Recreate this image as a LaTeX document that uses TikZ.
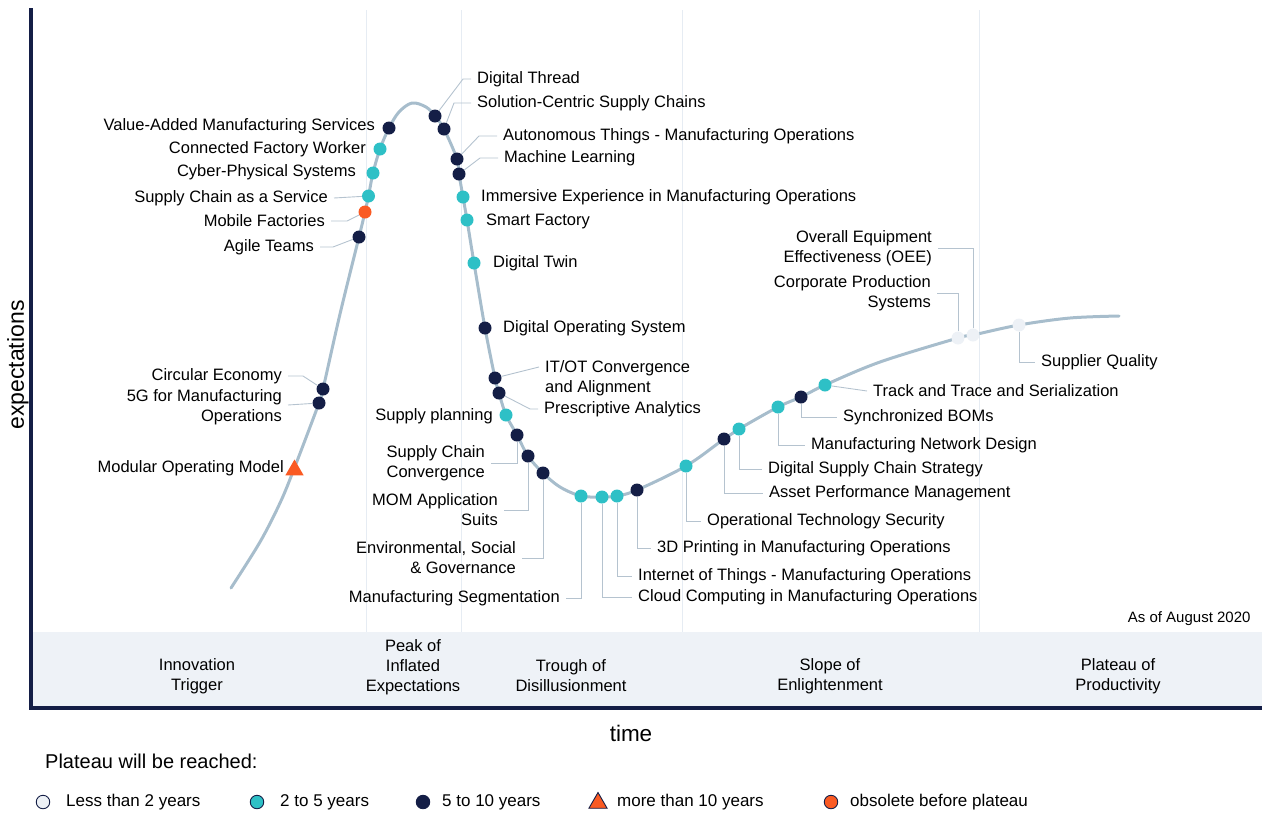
\documentclass[tikz,border=0pt]{standalone}
\usepackage{fontspec}
\setmainfont{Liberation Sans}
\usetikzlibrary{positioning,calc,shapes.geometric}
\definecolor{navy}{HTML}{141E46}
\definecolor{teal}{HTML}{2EC0C6}
\definecolor{orng}{HTML}{FA5A23}
\definecolor{curvec}{HTML}{A7BDCC}
\definecolor{leadc}{HTML}{B5C3CF}
\definecolor{sepc}{HTML}{E6ECF3}
\definecolor{bandc}{HTML}{EEF2F7}
\definecolor{palec}{HTML}{EDF1F6}
\tikzset{font=\fontsize{16.5}{20}\selectfont}
\tikzset{
	pt/.style={circle, minimum size=13pt, inner sep=0pt},
	ptnavy/.style={pt, fill=navy},
	ptteal/.style={pt, fill=teal},
	ptpale/.style={pt, fill=palec},
	ptorng/.style={pt, fill=orng},
	lbl/.style={inner xsep=6pt, inner ysep=1pt},
	lbll/.style={lbl, anchor=west, align=left},
	lblr/.style={lbl, anchor=east, align=right},
	lead/.style={draw=leadc, line width=0.9pt},
	phase/.style={align=center},
	key/.style={circle, minimum size=13.5pt, inner sep=0pt, draw=navy, line width=0.9pt},
	keytext/.style={anchor=west, inner sep=0pt, font=\fontsize{17}{20}\selectfont},
}

\begin{document}
\begin{tikzpicture}[x=1pt, y=-1pt]
	\useasboundingbox (0,0) rectangle (1262,812);

	% phases
	\fill[bandc] (33,632) rectangle (1262,706);
	\foreach \x in {366,461,682,979}
		\draw[sepc, line width=1pt] (\x,10) -- (\x,632);
	\draw[navy, line width=4pt] (31,8) -- (31,708) -- (1262,708);

	\node[rotate=90, font=\fontsize{23}{26}\selectfont] (ylab) at (18,365) {expectations};
	\node[font=\fontsize{22.5}{26}\selectfont] (xlab) at (631,733) {time};
	\node[anchor=east, font=\fontsize{15}{18}\selectfont] (asof) at (1254,619) {As of August 2020};

	\node[phase] (ph1) at (197,676) {Innovation\\Trigger};
	\node[phase] (ph2) at (413,667) {Peak of\\Inflated\\Expectations};
	\node[phase] (ph3) at (571,676) {Trough of\\Disillusionment};
	\node[phase] (ph4) at (830,676) {Slope of\\Enlightenment};
	\node[phase] (ph5) at (1118,676) {Plateau of\\Productivity};

	% hype curve
	\draw[curvec, line width=3pt, line cap=round] plot[smooth, tension=0.55] coordinates {
		(231,588) (260,542) (280,503) (294,469) (319,403) (323,389) (340,314) (359,237)
		(365,212) (368.5,196) (373,173) (380,149) (389,128) (399,112) (412,103)
		(426,107) (435,116) (444,129) (457,159) (459,174) (463,197) (467,220)
		(474,263) (485,328) (495,378) (499,393) (506,415) (517,435) (528,456)
		(543,473) (560,487) (581,496) (602,497) (617,496) (637,490) (686,466)
		(724,439) (739,429) (778,407) (801,397) (825,385) (880,362) (958,338)
		(973,335) (1019,325) (1070,318) (1119,316)};

	% points before the peak
	\node[ptnavy] (vams) at (389,128) {};
	\node[ptteal] (cfw) at (380,149) {};
	\node[ptteal] (cyps) at (373,173) {};
	\node[ptteal] (scaas) at (368.5,196) {};
	\node[ptorng] (mobf) at (365,212) {};
	\node[ptnavy] (agt) at (359,237) {};
	\node[ptnavy] (circ) at (323,389) {};
	\node[ptnavy] (fiveg) at (319,403) {};
	\node[regular polygon, regular polygon sides=3, fill=orng, minimum size=21pt, inner sep=0pt] (mom) at (294.5,470) {};

	\node[lblr] (vams-l) at (381,126) {Value-Added Manufacturing Services};
	\node[lblr] (cfw-l) at (372,149) {Connected Factory Worker};
	\node[lblr] (cyps-l) at (362,172) {Cyber-Physical Systems};
	\node[lblr] (scaas-l) at (334,198) {Supply Chain as a Service};
	\node[lblr] (mobf-l) at (331,221) {Mobile Factories};
	\node[lblr] (agt-l) at (320,247) {Agile Teams};
	\node[lblr] (circ-l) at (288,376) {Circular Economy};
	\node[lblr] (fiveg-l) at (288,407) {5G for Manufacturing\\Operations};
	\node[lblr] (mom-l) at (290,468) {Modular Operating Model};

	\draw[lead] (scaas-l.east) -- (scaas);
	\draw[lead] (mobf-l.east) -- ++(16,0) -- (mobf);
	\draw[lead] (agt-l.east) -- ++(13,0) -- (agt);
	\draw[lead] (circ-l.east) -- ++(15,0) -- (circ);
	\draw[lead] ([yshift=2pt]fiveg-l.east) -- (fiveg);

	% points after the peak
	\node[ptnavy] (dthr) at (435,116) {};
	\node[ptnavy] (scsc) at (444,129) {};
	\node[ptnavy] (atmo) at (457,159) {};
	\node[ptnavy] (mlrn) at (459,174) {};
	\node[ptteal] (iemo) at (463,197) {};
	\node[ptteal] (smf) at (467,220) {};
	\node[ptteal] (dtw) at (474,263) {};
	\node[ptnavy] (dos) at (485,328) {};
	\node[ptnavy] (itot) at (495,378) {};
	\node[ptnavy] (pran) at (499,393) {};
	\node[ptteal] (supl) at (506,415) {};
	\node[ptnavy] (scc) at (517,435) {};
	\node[ptnavy] (moma) at (528,456) {};
	\node[ptnavy] (esg) at (543,473) {};

	\node[lbll] (dthr-l) at (471,79) {Digital Thread};
	\node[lbll] (scsc-l) at (471,103) {Solution-Centric Supply Chains};
	\node[lbll] (atmo-l) at (497,136) {Autonomous Things - Manufacturing Operations};
	\node[lbll] (mlrn-l) at (498,158) {Machine Learning};
	\node[lbll] (iemo-l) at (475,197) {Immersive Experience in Manufacturing Operations};
	\node[lbll] (smf-l) at (480,221) {Smart Factory};
	\node[lbll] (dtw-l) at (487,263) {Digital Twin};
	\node[lbll] (dos-l) at (497,328) {Digital Operating System};
	\node[lbll] (itot-l) at (539,378) {IT/OT Convergence\\and Alignment};
	\node[lbll] (pran-l) at (538,409) {Prescriptive Analytics};
	\node[lblr] (supl-l) at (499,416) {Supply planning};
	\node[lbl, anchor=east, align=center] (scc-l) at (491,463) {Supply Chain\\Convergence};
	\node[lblr] (moma-l) at (504,510) {MOM Application\\Suits};
	\node[lblr] (esg-l) at (522,558) {Environmental, Social\\\& Governance};

	\draw[lead] (dthr) -- ([xshift=-8pt]dthr-l.west) -- (dthr-l.west);
	\draw[lead] (scsc) -- ([xshift=-17pt]scsc-l.west) -- (scsc-l.west);
	\draw[lead] (atmo) -- ([xshift=-18pt]atmo-l.west) -- (atmo-l.west);
	\draw[lead] (mlrn) -- ([xshift=-18pt]mlrn-l.west) -- (mlrn-l.west);
	\draw[lead] (itot) -- ([yshift=11pt]itot-l.west);
	\draw[lead] (pran) -- ([xshift=-8pt]pran-l.west) -- (pran-l.west);
	\draw[lead] (scc) |- (scc-l.east);
	\draw[lead] (moma) |- (moma-l.east);
	\draw[lead] (esg) |- (esg-l.east);

	% trough and slope
	\node[ptteal] (mseg) at (581,496) {};
	\node[ptteal] (ccmo) at (602,497) {};
	\node[ptteal] (iotm) at (617,496) {};
	\node[ptnavy] (tdpr) at (637,490) {};
	\node[ptteal] (ots) at (686,466) {};
	\node[ptnavy] (apm) at (724,439) {};
	\node[ptteal] (dscs) at (739,429) {};
	\node[ptteal] (mnd) at (778,407) {};
	\node[ptnavy] (sbom) at (801,397) {};
	\node[ptteal] (tts) at (825,385) {};
	\node[ptpale] (cpsys) at (958,338) {};
	\node[ptpale] (oee) at (973,335) {};
	\node[ptpale] (supq) at (1019,325) {};

	\node[lblr] (mseg-l) at (566,598) {Manufacturing Segmentation};
	\node[lbll] (ccmo-l) at (632,597) {Cloud Computing in Manufacturing Operations};
	\node[lbll] (iotm-l) at (632,576) {Internet of Things - Manufacturing Operations};
	\node[lbll] (tdpr-l) at (651,548) {3D Printing in Manufacturing Operations};
	\node[lbll] (ots-l) at (701,521) {Operational Technology Security};
	\node[lbll] (apm-l) at (763,493) {Asset Performance Management};
	\node[lbll] (dscs-l) at (762,469) {Digital Supply Chain Strategy};
	\node[lbll] (mnd-l) at (805,445) {Manufacturing Network Design};
	\node[lbll] (sbom-l) at (837,417) {Synchronized BOMs};
	\node[lbll] (tts-l) at (867,391) {Track and Trace and Serialization};
	\node[lblr] (cpsys-l) at (937,293) {Corporate Production\\Systems};
	\node[lblr] (oee-l) at (938,248) {Overall Equipment\\Effectiveness (OEE)};
	\node[lbll] (supq-l) at (1035,362) {Supplier Quality};

	\draw[lead] (mseg) |- (mseg-l.east);
	\draw[lead] (ccmo) |- (ccmo-l.west);
	\draw[lead] (iotm) |- (iotm-l.west);
	\draw[lead] (tdpr) |- (tdpr-l.west);
	\draw[lead] (ots) |- (ots-l.west);
	\draw[lead] (apm) |- (apm-l.west);
	\draw[lead] (dscs) |- (dscs-l.west);
	\draw[lead] (mnd) |- (mnd-l.west);
	\draw[lead] (sbom) |- (sbom-l.west);
	\draw[lead] (tts) -- (tts-l.west);
	\draw[lead] (cpsys) |- (cpsys-l.east);
	\draw[lead] (oee) |- (oee-l.east);
	\draw[lead] (supq) |- (supq-l.west);

	% legend
	\node[anchor=west, inner sep=0pt, font=\fontsize{20}{24}\selectfont] (keyhead) at (45,761) {Plateau will be reached:};
	\node[key, fill=palec] (k1) at (43,802) {};
	\node[keytext] (k1-l) at (66,802) {Less than 2 years};
	\node[key, fill=teal] (k2) at (257,802) {};
	\node[keytext] (k2-l) at (280,802) {2 to 5 years};
	\node[key, fill=navy] (k3) at (423,802) {};
	\node[keytext] (k3-l) at (442,802) {5 to 10 years};
	\node[regular polygon, regular polygon sides=3, fill=orng, draw=navy, line width=0.9pt, minimum size=21pt, inner sep=0pt] (k4) at (598,803) {};
	\node[keytext] (k4-l) at (617,802) {more than 10 years};
	\node[key, fill=orng] (k5) at (831,802) {};
	\node[keytext] (k5-l) at (850,802) {obsolete before plateau};
\end{tikzpicture}
\end{document}
